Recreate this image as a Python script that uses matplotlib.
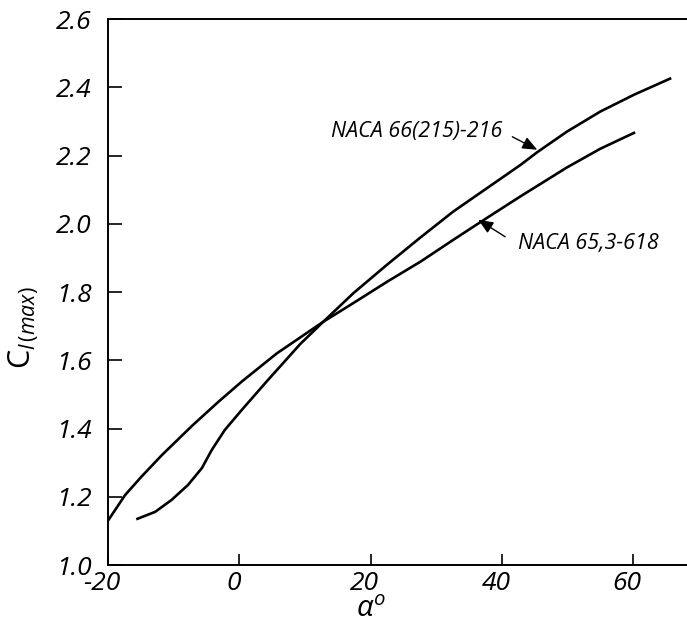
import matplotlib
matplotlib.use("Agg")
import matplotlib.pyplot as plt
from matplotlib.transforms import ScaledTranslation

# C_l(max) against alpha for the two sections
alpha_66 = [-15.7, -12.8, -10.3, -7.8, -5.7, -4.2, -2.2, 0.4, 4.4, 9.3, 12.8, 17.4,
            22.5, 27.6, 32.6, 37.7, 42.8, 45.4, 49.9, 55.0, 60.1, 65.8]
cl_66 = [1.134, 1.156, 1.191, 1.235, 1.284, 1.337, 1.396, 1.455, 1.543, 1.648, 1.713, 1.797,
         1.880, 1.960, 2.036, 2.104, 2.172, 2.210, 2.270, 2.329, 2.378, 2.427]

alpha_65 = [-20.0, -17.4, -14.9, -11.8, -7.2, -3.2, 0.4, 5.7, 12.8, 17.4, 22.5, 27.6,
            32.6, 37.7, 42.8, 49.9, 55.0, 60.3]
cl_65 = [1.130, 1.205, 1.259, 1.322, 1.408, 1.478, 1.538, 1.620, 1.713, 1.768, 1.830, 1.889,
         1.953, 2.017, 2.080, 2.165, 2.220, 2.268]

x_ticks = [-20, 0, 20, 40, 60]
y_ticks = [1.0, 1.2, 1.4, 1.6, 1.8, 2.0, 2.2, 2.4, 2.6]

plt.rcParams['font.family'] = ['Open Sans', 'DejaVu Sans']
plt.rcParams['mathtext.fontset'] = 'custom'
plt.rcParams['mathtext.rm'] = 'Open Sans'
plt.rcParams['mathtext.it'] = 'Open Sans:italic'

fig = plt.figure(figsize=(6.87, 6.29), dpi=100)
ax = fig.add_axes([0.1572, 0.1017, 0.8428, 0.868])

ax.plot(alpha_66, cl_66, color='black', lw=1.9, solid_capstyle='butt', solid_joinstyle='round')
ax.plot(alpha_65, cl_65, color='black', lw=1.9, solid_capstyle='butt', solid_joinstyle='round')

ax.set_xlim(-20, 68.2)
ax.set_ylim(1.0, 2.6)
ax.spines['right'].set_visible(False)
for s in ['left', 'top', 'bottom']:
    ax.spines[s].set_linewidth(1.4)

ax.set_xticks(x_ticks)
ax.set_xticklabels([str(v) for v in x_ticks], fontstyle='italic', fontsize=19)
ax.set_yticks(y_ticks)
ax.set_yticklabels(['%.1f' % v for v in y_ticks], fontstyle='italic', fontsize=19)
ax.tick_params(axis='y', direction='in', length=10, width=1.2, pad=12)
ax.tick_params(axis='x', direction='in', length=8, width=1.2, pad=4)
# italic x labels sit a little left of their ticks
shift = ScaledTranslation(-6 / 100, 0, fig.dpi_scale_trans)
for lab in ax.get_xticklabels():
    lab.set_transform(lab.get_transform() + shift)

ax.set_ylabel(r'$\mathrm{C}_{l\,(max)}$', fontsize=22)
ax.yaxis.set_label_coords(-0.118, 0.435)
ax.text(0.455, -0.082, r'$\alpha^o$', transform=ax.transAxes, fontsize=21,
        ha='center', va='center')

arrow = dict(arrowstyle='-|>,head_length=0.6,head_width=0.25', color='black',
             lw=1.0, mutation_scale=15, shrinkA=0, shrinkB=0)
ax.text(41.6 - 1.5, 2.270, 'NACA 66(215)-216', fontsize=15.5, fontstyle='italic',
        ha='right', va='center')
ax.annotate('', xy=(45.4, 2.217), xytext=(41.6, 2.255), arrowprops=arrow)
ax.text(42.5, 1.943, 'NACA 65,3-618', fontsize=15.5, fontstyle='italic',
        ha='left', va='center')
ax.annotate('', xy=(36.4, 2.012), xytext=(40.5, 1.962), arrowprops=arrow)

fig.savefig('out.png', dpi=100)
